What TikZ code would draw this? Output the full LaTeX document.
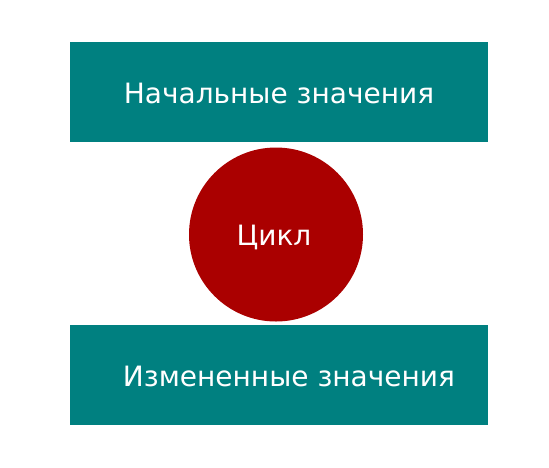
\documentclass[tikz,border=0pt]{standalone}
\usepackage{fontspec}
\setmainfont{DejaVu Sans}
\usetikzlibrary{positioning}

\definecolor{blockteal}{HTML}{008080}
\definecolor{loopred}{HTML}{AA0000}

\tikzset{
    blocktext/.style={text=white, inner sep=0pt, text height=22pt, text depth=0pt,
        font=\fontsize{28}{33}\selectfont},
    valuebox/.style={blocktext, fill=blockteal, minimum width=418pt, minimum height=100pt},
    loopcircle/.style={blocktext, circle, fill=loopred, minimum size=174pt}
}

\begin{document}
\begin{tikzpicture}[x=1pt, y=-1pt]

    % canvas
    \useasboundingbox (0,0) rectangle (549,467);

    % ==========================================
    % Blocks
    % ==========================================
    \node[valuebox] (initial) at (279, 92) {Начальные значения};
    \node[loopcircle] (loop) at (276, 234.5) {Цикл\hspace*{4pt}};
    \node[valuebox] (changed) at (279, 375) {\hspace*{20pt}Измененные значения};

\end{tikzpicture}
\end{document}
